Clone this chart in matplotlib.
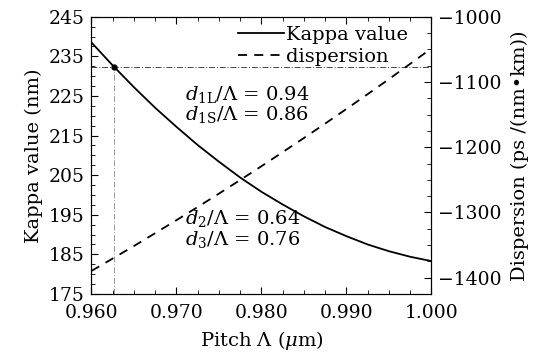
import matplotlib.pyplot as plt
from matplotlib.ticker import MultipleLocator
from matplotlib.lines import Line2D

# values
pitch = [0.9600, 0.9625, 0.9650, 0.9675, 0.9700, 0.9725, 0.9750, 0.9775, 0.9800,
         0.9825, 0.9850, 0.9875, 0.9900, 0.9925, 0.9950, 0.9975, 1.0000]
kappa = [238.5, 232.7, 227.2, 222.0, 217.2, 212.6, 208.4, 204.4, 200.8,
         197.6, 194.6, 191.9, 189.6, 187.5, 185.8, 184.4, 183.3]
dispersion = [-1389.6, -1370.6, -1351.4, -1331.7, -1311.8, -1291.6, -1271.1, -1250.2, -1229.1,
              -1207.5, -1185.8, -1163.7, -1141.3, -1118.6, -1095.6, -1072.1, -1048.5]
marked_pitch = 0.9627
marked_kappa = 232.4

x_ticks = [0.960, 0.970, 0.980, 0.990, 1.000]
kappa_ticks = [175, 185, 195, 205, 215, 225, 235, 245]
disp_ticks = [-1400, -1300, -1200, -1100, -1000]

plt.rcParams['font.family'] = 'DejaVu Serif'
plt.rcParams['mathtext.fontset'] = 'dejavuserif'
fs = 14

fig = plt.figure(figsize=(5.34, 3.64), dpi=100)
ax = fig.add_axes([0.1713, 0.1923, 0.6367, 0.7617])
ax2 = ax.twinx()

ax.plot(pitch, kappa, color='black', lw=1.3)
ax2.plot(pitch, dispersion, color='black', lw=1.3, ls=(0, (5, 4)))

# marked operating point
ax.axhline(marked_kappa, color='#444444', lw=0.7, ls=(0, (6, 2, 1, 2)))
ax.plot([marked_pitch, marked_pitch], [175, marked_kappa], color='#999999', lw=0.7,
        ls=(0, (6, 2, 1, 2)))
ax.plot(marked_pitch, marked_kappa, 'o', color='black', ms=3.5)

ax.set_xlim(0.960, 1.000)
ax.set_ylim(175, 245)
ax2.set_ylim(-1425, -1000)

ax.set_xticks(x_ticks)
ax.set_xticklabels(['%.3f' % v for v in x_ticks])
ax.set_yticks(kappa_ticks)
ax2.set_yticks(disp_ticks)
ax2.set_yticklabels(['\u2212%d' % abs(v) for v in disp_ticks])
ax.xaxis.set_minor_locator(MultipleLocator(0.0025))
ax.yaxis.set_minor_locator(MultipleLocator(2.5))
ax2.yaxis.set_minor_locator(MultipleLocator(25))

ax.tick_params(axis='both', which='both', direction='in', labelsize=13.5, top=True)
ax.tick_params(which='major', length=5, width=0.8)
ax.tick_params(which='minor', length=3, width=0.6)
ax.tick_params(axis='x', which='major', pad=7)
ax.tick_params(axis='y', which='major', pad=5)
ax2.tick_params(axis='y', which='both', direction='in', labelsize=13.5)
ax2.tick_params(which='major', length=5, width=0.8, pad=5)
ax2.tick_params(which='minor', length=3, width=0.6)

ax.set_xlabel(r'Pitch $\Lambda$ ($\mu$m)', fontsize=fs, labelpad=5)
ax.set_ylabel('Kappa value (nm)', fontsize=fs, labelpad=4)
ax2.set_ylabel('Dispersion (ps /(nm\u2022km))', fontsize=fs, labelpad=6)

ax.text(0.275, 0.718, r'$d_{\mathrm{1L}}/\Lambda$ = 0.94', transform=ax.transAxes,
        fontsize=fs, va='center')
ax.text(0.275, 0.646, r'$d_{\mathrm{1S}}/\Lambda$ = 0.86', transform=ax.transAxes,
        fontsize=fs, va='center')
ax.text(0.275, 0.274, r'$d_{2}/\Lambda$ = 0.64', transform=ax.transAxes,
        fontsize=fs, va='center')
ax.text(0.275, 0.195, r'$d_{3}/\Lambda$ = 0.76', transform=ax.transAxes,
        fontsize=fs, va='center')

handles = [Line2D([], [], color='black', lw=1.3),
           Line2D([], [], color='black', lw=1.3, ls=(0, (5, 4)))]
ax.legend(handles, ['Kappa value', 'dispersion'], loc='upper right',
          bbox_to_anchor=(0.955, 0.995), frameon=False, fontsize=fs,
          handlelength=2.4, handletextpad=0.1, labelspacing=0.2, borderaxespad=0)

fig.savefig('out.png', dpi=100)
